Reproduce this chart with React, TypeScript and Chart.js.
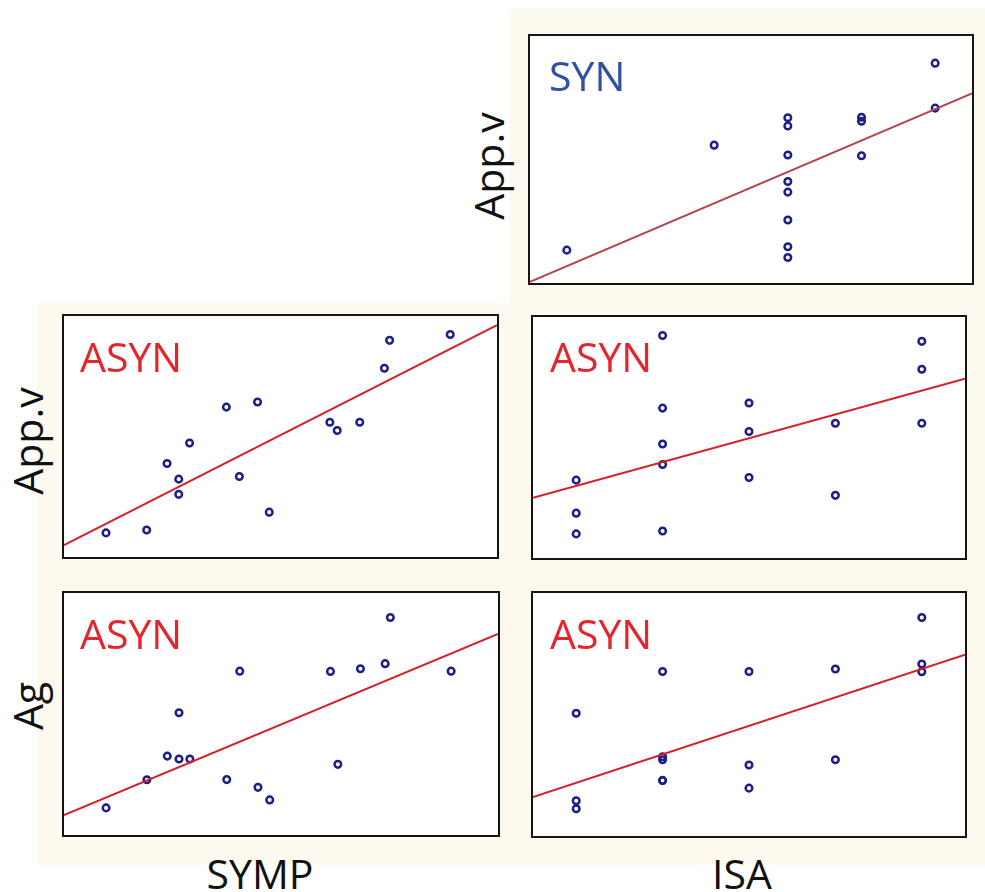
import React, { useEffect, useRef } from "react";
import { Chart, registerables } from "chart.js";
Chart.register(...registerables);

// ASYN group, one entry per subject (arbitrary units, 0–100)
const asynSymp = [9.7, 19.1, 23.8, 26.5, 26.5, 29.0, 37.5, 40.5, 44.7, 47.4, 61.4, 63.1, 68.3, 74.0, 75.2, 89.2];
const asynIsa = [1, 2, 2, 1, 4, 2, 2, 3, 3, 1, 5, 3, 4, 5, 5, 2];
const asynAppv = [10.0, 11.2, 38.8, 32.3, 26.0, 47.3, 62.2, 33.4, 64.3, 18.6, 55.9, 52.5, 55.9, 78.3, 89.9, 92.3];
const asynAg = [11.2, 22.8, 32.6, 50.5, 31.4, 31.4, 22.9, 67.7, 19.7, 14.5, 67.6, 29.2, 68.7, 70.8, 89.9, 67.7];

// SYN group
const synIsa = [1, 3, 4, 4, 4, 4, 4, 4, 4, 4, 5, 5, 5, 6, 6];
const synAppv = [13.3, 55.8, 66.9, 63.6, 51.8, 41.1, 36.8, 25.5, 14.7, 10.3, 67.1, 65.5, 51.5, 89.0, 70.8];

// fitted regression lines (end points)
const fitSynIsaAppvX = [0.5, 6.5];
const fitSynIsaAppvY = [0.5, 76.8];
const fitSympAppvX = [0, 100];
const fitSympAppvY = [4.9, 96.2];
const fitIsaAppvX = [0.5, 5.5];
const fitIsaAppvY = [25.0, 74.4];
const fitSympAgX = [0, 100];
const fitSympAgY = [8.2, 83.1];
const fitIsaAgX = [0.5, 5.5];
const fitIsaAgY = [16.0, 74.6];

const FONT = "'Open Sans', 'DejaVu Sans', sans-serif";
const CREAM = "#fdf9ee";
const NAVY = "#1e1e88";

type PanelProps = {
  left: number; top: number; width: number; height: number;
  xs: number[]; ys: number[]; fx: number[]; fy: number[];
  xMin: number; xMax: number; lineColor: string;
};

function Panel(p: PanelProps) {
  const ref = useRef<HTMLCanvasElement | null>(null);
  const iw = p.width - 4;
  const ih = p.height - 4;
  useEffect(() => {
    if (!ref.current) return;
    const chart = new Chart(ref.current, {
      type: "scatter",
      data: {
        datasets: [
          {
            type: "line",
            data: p.fx.map((x, i) => ({ x, y: p.fy[i] })),
            borderColor: p.lineColor,
            borderWidth: 2,
            pointRadius: 0,
            fill: false,
          } as any,
          {
            type: "scatter",
            data: p.xs.map((x, i) => ({ x, y: p.ys[i] })),
            pointStyle: "circle",
            pointRadius: 3.3,
            borderWidth: 2.5,
            borderColor: NAVY,
            backgroundColor: "rgba(0,0,0,0)",
          },
        ],
      },
      options: {
        animation: false,
        responsive: false,
        maintainAspectRatio: false,
        layout: { padding: 0, autoPadding: false },
        plugins: { legend: { display: false }, tooltip: { enabled: false }, title: { display: false } },
        scales: {
          x: { type: "linear", min: p.xMin, max: p.xMax, display: false },
          y: { type: "linear", min: 0, max: 100, display: false },
        },
      },
    });
    return () => chart.destroy();
  }, []);
  return (
    <div
      style={{
        position: "absolute", left: p.left, top: p.top, width: p.width, height: p.height,
        border: "2px solid #141414", boxSizing: "border-box", background: "#ffffff",
      }}
    >
      <canvas ref={ref} width={iw} height={ih} style={{ width: iw, height: ih, display: "block" }} />
    </div>
  );
}

const textBase: React.CSSProperties = {
  position: "absolute", fontFamily: FONT, fontSize: 41, lineHeight: "41px", whiteSpace: "nowrap",
};

function Label({ text, left, top, color }: { text: string; left: number; top: number; color: string }) {
  return <div style={{ ...textBase, left, top, color }}>{text}</div>;
}

function VLabel({ text, cx, cy }: { text: string; cx: number; cy: number }) {
  return (
    <div
      style={{
        ...textBase, left: cx, top: cy, color: "#111",
        transform: "translate(-50%, -50%) rotate(-90deg)",
      }}
    >
      {text}
    </div>
  );
}

function HLabel({ text, cx, top }: { text: string; cx: number; top: number }) {
  return (
    <div style={{ ...textBase, left: cx, top, color: "#111", transform: "translateX(-50%)" }}>{text}</div>
  );
}

export default function App() {
  return (
    <div style={{ position: "absolute", left: 0, top: 0, width: 985, height: 892, overflow: "hidden", background: "#fff" }}>
      <div style={{ position: "absolute", left: 509, top: 9, width: 476, height: 294, background: CREAM }} />
      <div style={{ position: "absolute", left: 37, top: 303, width: 948, height: 562, background: CREAM }} />

      <Panel left={528} top={34} width={446} height={251} xs={synIsa} ys={synAppv}
        fx={fitSynIsaAppvX} fy={fitSynIsaAppvY} xMin={0.5} xMax={6.5} lineColor="#b24550" />
      <Panel left={62} top={314} width={437} height={245} xs={asynSymp} ys={asynAppv}
        fx={fitSympAppvX} fy={fitSympAppvY} xMin={0} xMax={100} lineColor="#d42027" />
      <Panel left={531} top={315} width={436} height={245} xs={asynIsa} ys={asynAppv}
        fx={fitIsaAppvX} fy={fitIsaAppvY} xMin={0.5} xMax={5.5} lineColor="#d42027" />
      <Panel left={62} top={591} width={438} height={246} xs={asynSymp} ys={asynAg}
        fx={fitSympAgX} fy={fitSympAgY} xMin={0} xMax={100} lineColor="#d42027" />
      <Panel left={531} top={591} width={436} height={247} xs={asynIsa} ys={asynAg}
        fx={fitIsaAgX} fy={fitIsaAgY} xMin={0.5} xMax={5.5} lineColor="#d42027" />

      <Label text="SYN" left={549} top={55} color="#2f51a3" />
      <Label text="ASYN" left={80} top={336} color="#e4252b" />
      <Label text="ASYN" left={550} top={336} color="#e4252b" />
      <Label text="ASYN" left={80} top={613} color="#e4252b" />
      <Label text="ASYN" left={550} top={613} color="#e4252b" />

      <VLabel text="App.v" cx={488} cy={166} />
      <VLabel text="App.v" cx={27} cy={441} />
      <VLabel text="Ag" cx={27} cy={706} />

      <HLabel text="SYMP" cx={260} top={853} />
      <HLabel text="ISA" cx={742} top={853} />
    </div>
  );
}
